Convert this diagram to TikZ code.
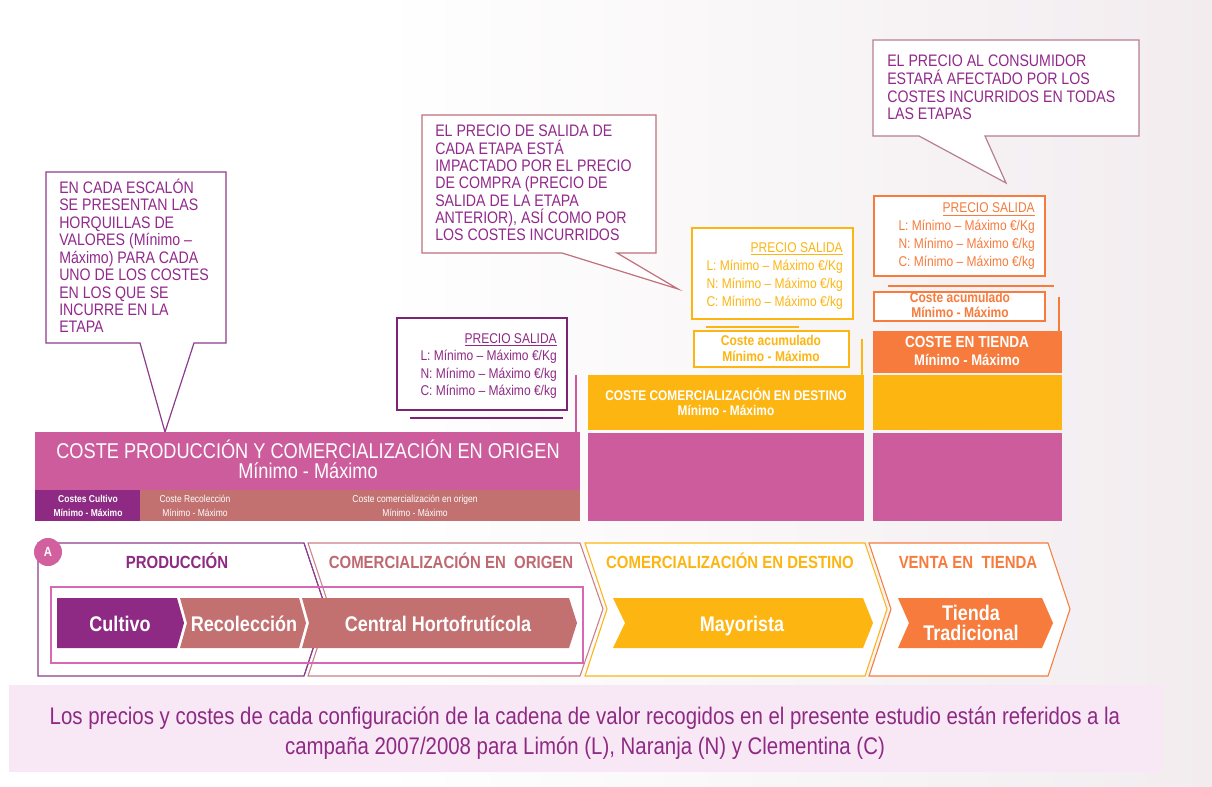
\documentclass[tikz,border=0pt]{standalone}
\usepackage{fontspec}
\setmainfont{Liberation Sans}[FakeStretch=0.85]
\definecolor{cpurple}{RGB}{142,42,131}
\definecolor{ctxt}{RGB}{146,42,140}
\definecolor{cpink}{RGB}{204,92,156}
\definecolor{cpinkA}{RGB}{210,96,158}
\definecolor{crosy}{RGB}{194,112,112}
\definecolor{camber}{RGB}{253,181,17}
\definecolor{corange}{RGB}{246,123,60}
\definecolor{cbanner}{RGB}{248,232,246}
\definecolor{cline1}{RGB}{140,60,140}
\definecolor{cline2}{RGB}{192,112,122}
\definecolor{cline3}{RGB}{185,125,145}
\definecolor{cinner}{RGB}{215,105,180}
\definecolor{cbox1}{RGB}{125,35,115}
\definecolor{corig}{RGB}{200,128,134}
\definecolor{corigtxt}{RGB}{192,104,112}
\definecolor{cbg}{RGB}{242,236,239}
\tikzset{
  callbox/.style={fill=white, line width=0.9pt, line join=miter},
  calltext/.style={anchor=base west, align=left, inner sep=0pt, text=ctxt},
  pricebox/.style={line width=0.9pt, fill=white},
  pricetext/.style={anchor=base east, align=right, inner sep=0pt, font=\fontsize{10.6}{13.1}\selectfont},
  acumtext/.style={anchor=base, align=center, inner sep=0pt, font=\bfseries\fontsize{10.6}{11.6}\selectfont},
  riser/.style={line width=2.2pt},
  sepline/.style={line width=0.9pt},
  outline/.style={line width=0.8pt, line join=miter},
  chevtext/.style={anchor=base, align=center, inner sep=0pt, text=white, font=\bfseries\fontsize{15.9}{15}\selectfont},
  stagelabel/.style={anchor=base, inner sep=0pt, font=\bfseries\fontsize{13.2}{14}\selectfont},
  subtext/.style={anchor=base, align=center, inner sep=0pt, text=white, font=\fontsize{7.5}{9.8}\selectfont},
}
\begin{document}
\begin{tikzpicture}[x=0.75pt,y=-0.75pt]
\useasboundingbox (0,0) rectangle (1212,787);
\fill[white] (0,0) rectangle (1212,787);
\shade[left color=white, right color=cbg] (380,0) rectangle (1212,787);

% ---------- callouts (anchor = baseline of last line) ----------
\draw[callbox, draw=cline1] (46,172) -- (226,172) -- (226,343) -- (194,343) -- (165,432) -- (140,343) -- (46,343) -- cycle;
\node[calltext, font=\fontsize{12.5}{13.1}\selectfont] (c1) at (59,333) {EN CADA ESCALÓN\\SE PRESENTAN LAS\\HORQUILLAS DE\\VALORES (Mínimo –\\Máximo) PARA CADA\\UNO DE LOS COSTES\\EN LOS QUE SE\\INCURRE EN LA\\ETAPA};

\draw[callbox, draw=cline2] (422,115) -- (656,115) -- (656,253) -- (617,253) -- (678,289) -- (562,253) -- (422,253) -- cycle;
\node[calltext, font=\fontsize{12.5}{13}\selectfont] (c2) at (435,241) {EL PRECIO DE SALIDA DE\\CADA ETAPA ESTÁ\\IMPACTADO POR EL PRECIO\\DE COMPRA (PRECIO DE\\SALIDA DE LA ETAPA\\ANTERIOR), ASÍ COMO POR\\LOS COSTES INCURRIDOS};

\draw[callbox, draw=cline3] (873,40) -- (1139,40) -- (1139,136) -- (985,136) -- (1006,183) -- (919,136) -- (873,136) -- cycle;
\node[calltext, font=\fontsize{12.5}{13.3}\selectfont] (c3) at (887,120) {EL PRECIO AL CONSUMIDOR\\ESTARÁ AFECTADO POR LOS\\COSTES INCURRIDOS EN TODAS\\LAS ETAPAS};

% ---------- cost blocks ----------
\fill[cpink] (35,432) rectangle (580,490);
\fill[cpurple] (35,490) rectangle (140,521);
\fill[crosy] (140,490) rectangle (580,521);
\node[anchor=base, inner sep=0pt, text=white, align=center, font=\fontsize{16.05}{15}\selectfont] (t1) at (308,478.5) {COSTE PRODUCCIÓN Y COMERCIALIZACIÓN EN ORIGEN\\Mínimo - Máximo};
\node[subtext, font=\bfseries\fontsize{7.5}{9.8}\selectfont] (s1) at (88,516) {Costes Cultivo\\Mínimo - Máximo};
\node[subtext] (s2) at (195,516) {Coste Recolección\\Mínimo - Máximo};
\node[subtext] (s3) at (415,516) {Coste comercialización en origen\\Mínimo - Máximo};

\fill[camber] (588,375) rectangle (864,430);
\fill[cpink] (588,433) rectangle (864,521);
\node[anchor=base, inner sep=0pt, text=white, align=center, font=\bfseries\fontsize{10.5}{11.25}\selectfont] (t2) at (726,415) {COSTE COMERCIALIZACIÓN EN DESTINO\\Mínimo - Máximo};

\fill[corange] (873,331) rectangle (1062,373);
\fill[camber] (873,375) rectangle (1062,430);
\fill[cpink] (873,433) rectangle (1062,521);
\node[anchor=base, inner sep=0pt, text=white, font=\bfseries\fontsize{12}{12}\selectfont] (t3a) at (967,348) {COSTE EN TIENDA};
\node[anchor=base, inner sep=0pt, text=white, font=\bfseries\fontsize{11.5}{12}\selectfont] (t3b) at (967,366) {Mínimo - Máximo};

% ---------- price boxes ----------
\draw[pricebox, draw=cbox1] (397,318) rectangle (567,410);
\node[pricetext, text=cpurple] (p1) at (557,395.5) {\underline{PRECIO SALIDA}\\L: Mínimo – Máximo €/Kg\\N: Mínimo – Máximo €/kg\\C: Mínimo – Máximo €/kg};
\draw[sepline, cbox1] (410,418) -- (563,418);
\draw[riser, cpink] (576,375) -- (576,432);

\draw[pricebox, draw=camber] (692,228) rectangle (853,319);
\node[pricetext, text=camber, font=\fontsize{10.6}{13.7}\selectfont] (p2) at (843,307) {\underline{PRECIO SALIDA}\\L: Mínimo – Máximo €/Kg\\N: Mínimo – Máximo €/kg\\C: Mínimo – Máximo €/kg};
\draw[sepline, camber] (706,327) -- (799,327);
\draw[pricebox, draw=camber] (694,331) rectangle (849,367);
\node[acumtext, text=camber, font=\bfseries\fontsize{10.6}{12}\selectfont] (a2) at (771,362) {Coste acumulado\\Mínimo - Máximo};
\draw[riser, camber] (862,339) -- (862,375);

\draw[pricebox, draw=corange] (874,196) rectangle (1045,276);
\node[pricetext, text=corange, font=\fontsize{10.6}{13.5}\selectfont] (p3) at (1035,267) {\underline{PRECIO SALIDA}\\L: Mínimo – Máximo €/Kg\\N: Mínimo – Máximo €/kg\\C: Mínimo – Máximo €/kg};
\draw[sepline, corange] (888,286) -- (1054,286);
\draw[pricebox, draw=corange] (874,292) rectangle (1045,321);
\node[acumtext, text=corange, font=\bfseries\fontsize{10.6}{11.25}\selectfont] (a3) at (960,318) {Coste acumulado\\Mínimo - Máximo};
\draw[riser, corange] (1059,297) -- (1059,331);

% ---------- process outlines ----------
\draw[outline, cline1, fill=white] (38,543) -- (304,543) -- (326,609) -- (304,676) -- (38,676) -- cycle;
\draw[outline, corig, fill=white] (308,543) -- (580,543) -- (603,609) -- (580,676) -- (308,676) -- (330,609) -- cycle;
\draw[outline, cline1] (304,543) -- (326,609) -- (304,676);
\draw[outline, camber, fill=white] (585,543) -- (865,543) -- (887,609) -- (865,676) -- (585,676) -- (607,609) -- cycle;
\draw[outline, corange, fill=white] (869,543) -- (1048,543) -- (1070,609) -- (1048,676) -- (869,676) -- (891,609) -- cycle;
\draw[outline, cinner] (51,587) rectangle (583,663);

\node[stagelabel, text=cpurple] (l1) at (177,568) {PRODUCCIÓN};
\node[stagelabel, text=corigtxt] (l2) at (451,568) {COMERCIALIZACIÓN EN\ \ ORIGEN};
\node[stagelabel, text=camber] (l3) at (730,568) {COMERCIALIZACIÓN EN DESTINO};
\node[stagelabel, text=corange] (l4) at (968,568) {VENTA EN\ \ TIENDA};

% ---------- chevrons ----------
\fill[cpurple] (57,598) -- (177,598) -- (184,623) -- (177,648) -- (57,648) -- cycle;
\fill[crosy] (180,598) -- (299,598) -- (306,623) -- (299,648) -- (180,648) -- (187,623) -- cycle;
\fill[crosy] (302,598) -- (569,598) -- (577,623) -- (569,648) -- (302,648) -- (309,623) -- cycle;
\fill[camber] (613,598) -- (863,598) -- (873,623) -- (863,648) -- (613,648) -- (625,623) -- cycle;
\fill[corange] (898,598) -- (1042,598) -- (1053,623) -- (1042,648) -- (898,648) -- (909,623) -- cycle;

\node[chevtext] (k1) at (120,631) {Cultivo};
\node[chevtext] (k2) at (244,631) {Recolección};
\node[chevtext] (k3) at (438,631) {Central Hortofrutícola};
\node[chevtext] (k4) at (742,631) {Mayorista};
\node[chevtext] (k5) at (971,640) {Tienda\\Tradicional};

\node[circle, fill=cpinkA, minimum size=21pt, inner sep=0pt, text=white, font=\bfseries\fontsize{10}{10}\selectfont] (A) at (48,552) {A};

% ---------- banner ----------
\fill[cbanner] (9,685) rectangle (1163,772);
\node[anchor=base, align=center, inner sep=0pt, text=cpurple, font=\fontsize{18}{22.5}\selectfont] (b) at (585,754) {Los precios y costes de cada configuración de la cadena de valor recogidos en el presente estudio están referidos a la\\campaña 2007/2008 para Limón (L), Naranja (N) y Clementina (C)};
\end{tikzpicture}
\end{document}
